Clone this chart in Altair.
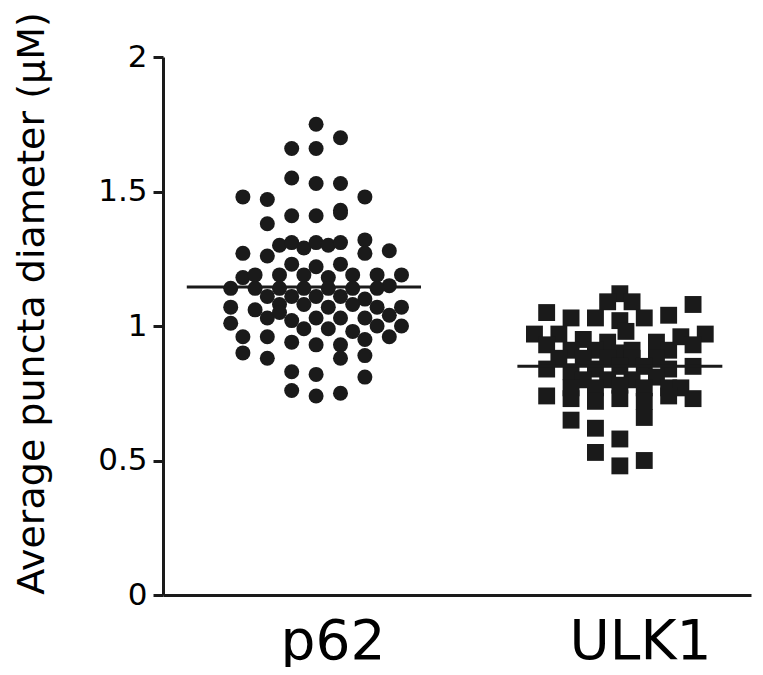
import altair as alt
import pandas as pd

# ---- data ----
groups = ["p62", "ULK1"]
mean_values = [1.145, 0.85]

# p62: (column offset, diameter)
p62_col = [1, 3, -1, 1, -1, 1, 3, 5, -5, -3, 3,
           -3, -1, 1, 3,
           -5, -3, -2, -1, 0, -1, -5, -4, -2, 0,
           1, 2, 3, 5, 5, 7, 1, 3, 2, 4, 6, 8, 7,
           -6, -4, -2, 0, 2, 4, 6,
           -3, -1, 1, 3, 5,
           -6, -4, -2, 0, 2, 4, 6, 8,
           -3, -2, -1, 1, 3, 5, 7,
           -6, 0, 2, 4, 6, 8,
           -5, -3, -1, 1, 3, 5, 7,
           -5, -3, -1, -1, 3, 5, 1, 5, 1, 3]
p62_val = [1.75, 1.70, 1.66, 1.66, 1.55, 1.53, 1.53, 1.48, 1.48, 1.47, 1.43,
           1.38, 1.41, 1.41, 1.42,
           1.27, 1.26, 1.30, 1.31, 1.29, 1.23, 1.18, 1.19, 1.19, 1.19,
           1.31, 1.30, 1.31, 1.32, 1.27, 1.28, 1.22, 1.23, 1.18, 1.19, 1.19, 1.19, 1.15,
           1.14, 1.14, 1.14, 1.14, 1.14, 1.14, 1.14,
           1.11, 1.11, 1.11, 1.11, 1.10,
           1.07, 1.06, 1.08, 1.08, 1.07, 1.08, 1.07, 1.07,
           1.03, 1.05, 1.02, 1.03, 1.03, 1.03, 1.04,
           1.01, 0.99, 0.99, 0.98, 1.00, 1.00,
           0.96, 0.96, 0.94, 0.93, 0.93, 0.95, 0.96,
           0.90, 0.88, 0.83, 0.76, 0.88, 0.89, 0.82, 0.81, 0.74, 0.75]

# ULK1: (column offset, diameter)
ulk1_col = [0, -1, 1, 6, -6, -4, -2, 0, 2, 4,
            -7, -5, -3, -1, 0.5, 3, 5, 7,
            -6, -4, -2, 0, 1, 4, 6,
            -5, -3, -1, 1, 3,
            -6, -4, -2, 0, 2, 4, 6,
            -3, -1, 1, 3,
            -4, -2, 0, 2, 4, 5,
            -6, -4, -2, 0, 2, 4, 6,
            -4, 2, -2, 0, -2, 2, 0]
ulk1_val = [1.12, 1.09, 1.09, 1.08, 1.05, 1.03, 1.03, 1.02, 1.03, 1.04,
            0.97, 0.97, 0.95, 0.94, 0.98, 0.94, 0.96, 0.97,
            0.93, 0.91, 0.91, 0.90, 0.91, 0.91, 0.93,
            0.88, 0.88, 0.88, 0.88, 0.88,
            0.84, 0.83, 0.84, 0.85, 0.85, 0.84, 0.85,
            0.80, 0.80, 0.80, 0.81,
            0.77, 0.77, 0.78, 0.77, 0.77, 0.77,
            0.74, 0.73, 0.72, 0.73, 0.72, 0.74, 0.73,
            0.65, 0.66, 0.62, 0.58, 0.53, 0.50, 0.48]

y_ticks = [0, 0.5, 1, 1.5, 2]

# ---- layout constants (x in column units) ----
centers = {"p62": 11.55, "ULK1": 37.45}
label_pos = [13.9, 39.1]
half_len = {"p62": 9.6, "ULK1": 8.4}

p62_df = pd.DataFrame({"x": [centers["p62"] + c for c in p62_col], "y": p62_val})
ulk_df = pd.DataFrame({"x": [centers["ULK1"] + c for c in ulk1_col], "y": ulk1_val})
mean_df = pd.DataFrame({
    "x": [centers[g] - half_len[g] for g in groups],
    "x2": [centers[g] + half_len[g] for g in groups],
    "y": mean_values,
})

FONT = "DejaVu Sans"
INK = "#1a1a1a"

x_scale = alt.Scale(domain=[0, 48.2], nice=False, zero=False)
y_scale = alt.Scale(domain=[0, 2], nice=False)

x_axis = alt.Axis(
    values=label_pos,
    labelExpr="datum.value < 25 ? 'p62' : 'ULK1'",
    title=None, grid=False, ticks=False,
    domainColor=INK, domainWidth=3,
    labelFont=FONT, labelFontSize=55, labelColor="black",
    labelPadding=20, labelBaseline="top",
)
y_axis = alt.Axis(
    values=y_ticks, format="~g",
    title="Average puncta diameter (μM)",
    grid=False, tickSize=10, tickWidth=3, tickColor=INK,
    domainColor=INK, domainWidth=3,
    labelFont=FONT, labelFontSize=31, labelColor="black", labelPadding=6,
    titleFont=FONT, titleFontSize=38, titleFontWeight="normal", titleColor="black",
    titleX=-120, titleY=246, titleBaseline="alphabetic", titleAngle=270,
)

X = alt.X("x:Q", scale=x_scale, axis=x_axis)
Y = alt.Y("y:Q", scale=y_scale, axis=y_axis)

circles = alt.Chart(p62_df).mark_circle(size=225, color=INK, opacity=1).encode(x=X, y=Y)
squares = alt.Chart(ulk_df).mark_square(size=285, color=INK, opacity=1).encode(x=X, y=Y)
means = alt.Chart(mean_df).mark_rule(color=INK, strokeWidth=3).encode(
    x=X, x2="x2:Q", y=Y
)

chart = alt.layer(circles, squares, means).properties(
    width=588, height=538,
    autosize=alt.AutoSizeParams(type="none"),
    padding={"left": 155, "top": 49, "right": 2, "bottom": 72},
).configure(
    background="white",
    view=alt.ViewConfig(strokeWidth=0),
)

chart.save("out.html", embed_options={"renderer": "svg", "actions": False})
